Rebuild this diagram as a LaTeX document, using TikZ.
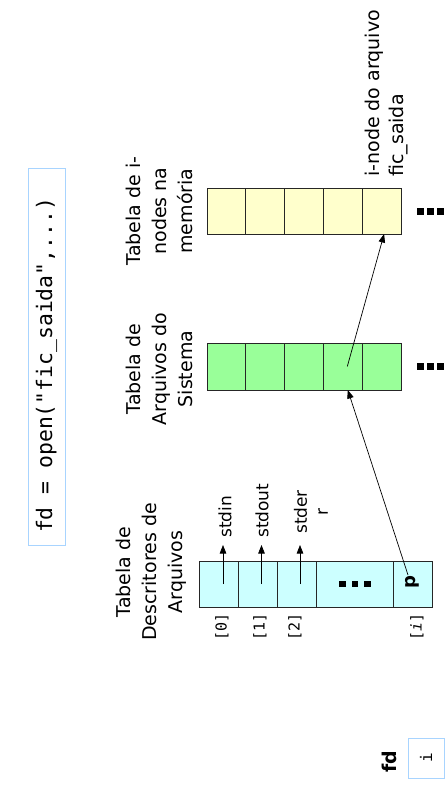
\documentclass[tikz,border=0pt]{standalone}
\usepackage{fontspec}
\setmainfont{DejaVu Sans}
\setmonofont{DejaVu Sans Mono}
\usetikzlibrary{arrows.meta}
\definecolor{cblue}{HTML}{CCFFFF}
\definecolor{cgreen}{HTML}{99FF99}
\definecolor{cyellow}{HTML}{FFFFCC}
\definecolor{codeb}{HTML}{A8D4FF}
\tikzset{
  cell/.style={draw=black!85, line width=0.9pt, inner sep=0pt, outer sep=0pt, minimum height=46pt, minimum width=38.8pt},
  cellB/.style={cell, fill=cblue},
  cellG/.style={cell, fill=cgreen, minimum height=47pt},
  cellY/.style={cell, fill=cyellow},
  title/.style={rotate=90, align=center, inner sep=0pt, font=\fontsize{19}{26}\selectfont},
  stdlbl/.style={rotate=90, anchor=west, align=center, inner sep=0pt, inner xsep=7pt, font=\fontsize{17}{21}\selectfont},
  idx/.style={rotate=90, anchor=east, inner sep=0pt, font=\ttfamily\fontsize{15}{18}\selectfont},
  arr/.style={line width=0.7pt, -{Triangle[length=8.5pt,width=6.5pt]}},
  dotsq/.style={fill=black}
}
\begin{document}
\begin{tikzpicture}[x=1pt,y=-1pt]
\useasboundingbox[fill=white] (0,0) rectangle (445,789);

% code box
\node[rotate=90, draw=codeb, line width=0.8pt, minimum width=377pt, minimum height=37pt, inner sep=0pt,
      font=\ttfamily\fontsize{21.4}{25}\selectfont] (code) at (46.5,356.5)
      {fd = open("fic\_saida",...)\hspace*{18pt}};

% titles
\node[title] (tblue) at (151,572) {Tabela de\\Descritores de\\Arquivos};
\node[title] (tgreen) at (159,369) {Tabela de\\Arquivos do\\Sistema};
\node[title] (tyellow) at (159,211) {Tabela de i-\\nodes na\\memória};
\node[rotate=90, anchor=west, align=left, inner sep=0pt, font=\fontsize{19}{24}\selectfont] (inode) at (387,177)
      {i-node do arquivo\\fic\_saida};

% yellow table
\foreach \i/\x in {0/226.4,1/265.2,2/304,3/342.8,4/381.6}
  \node[cellY] (y\i) at (\x,211) {};
% green table
\foreach \i/\x in {0/226.4,1/265.2,2/304,3/342.8,4/381.6}
  \node[cellG] (g\i) at (\x,366.5) {};
% blue table
\node[cellB, minimum width=39pt] (b0) at (218.5,584) {};
\node[cellB, minimum width=39pt] (b1) at (257.5,584) {};
\node[cellB, minimum width=39pt] (b2) at (296.5,584) {};
\node[cellB, minimum width=77pt] (bd) at (354.5,584) {};
\node[cellB, minimum width=39pt] (bi) at (412.5,584) {};
\node[rotate=90, inner sep=0pt, font=\bfseries\fontsize{18}{22}\selectfont] (p) at (412,582) {p};

% ellipses
\foreach \x in {417,427,437} \fill[dotsq] (\x,208) rectangle ++(7,7);
\foreach \x in {417,427,437} \fill[dotsq] (\x,363) rectangle ++(7,7);
\foreach \x in {339,351.5,364} \fill[dotsq] (\x,580.5) rectangle ++(6.5,6.5);

% std labels
\node[stdlbl] (sin) at (225,545) {stdin};
\node[stdlbl] (sout) at (262,545) {stdout};
\node[stdlbl] (serr) at (311,541) {stder\\r};

\coordinate (a0) at ([xshift=4.5pt]b0.center);
\coordinate (a1) at ([xshift=4pt]b1.center);
\coordinate (a2) at ([xshift=3.5pt]b2.center);
\draw[arr] (a0) -- (a0 |- sin.west);
\draw[arr] (a1) -- (a1 |- sout.west);
\draw[arr] (a2) -- (a2 |- sin.west);

% indices
\node[idx] (i0) at (222,613) {[0]};
\node[idx] (i1) at (260,613) {[1]};
\node[idx] (i2) at (295,613) {[2]};
\node[idx] (ii) at (417,613) {[\textit{i}]};

% pointers
\coordinate (ps) at (408,575);
\draw[arr] (ps) -- ([xshift=5pt]g3.south);
\draw[arr] ([xshift=4.5pt]g3.center) -- ([xshift=2.5pt]y4.south);

% fd variable
\node[rotate=90, inner sep=0pt, font=\bfseries\fontsize{19}{22}\selectfont] (fdl) at (389,762) {fd};
\node[rotate=90, draw=codeb, line width=0.8pt, minimum width=40pt, minimum height=36pt, inner sep=0pt,
      font=\ttfamily\fontsize{16}{18}\selectfont] (fdbox) at (426,758) {i};
\end{tikzpicture}
\end{document}
